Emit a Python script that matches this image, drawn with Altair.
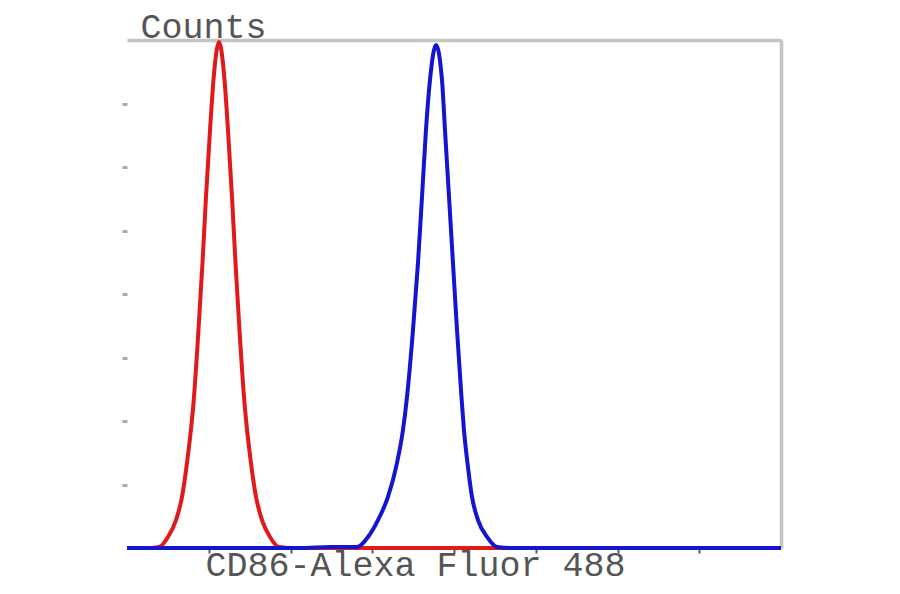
import altair as alt
import pandas as pd

# Red histogram (control); x in channel units 0-1024, y in counts 0-400
red_x = [0, 36, 50.1, 64.2, 76.7, 86.1, 93.9, 104.9, 111.9, 118.2, 123.7, 130.0, 135.4, 144.1,
         152.7, 158.1, 164.4, 169.9, 176.1, 183.2, 194.1, 202.0, 211.4, 223.9, 238.0, 258.3, 1024]
red_y = [0, 0, 0.8, 8.7, 22.0, 40.2, 66.9, 118.9, 171.7, 224.4, 276.4, 329.1, 368.5, 398.4,
         368.5, 329.1, 276.4, 224.4, 171.7, 118.9, 66.9, 40.2, 22.0, 8.7, 0.8, 0, 0]

# Blue histogram (CD86 stained)
blue_x = [0, 271, 318, 340, 360.1, 377.3, 393.0, 408.6, 422.7, 432.1, 438.4, 447.8, 455.6, 461.9, 468.1, 474.4, 483.8,
          493.2, 497.9, 504.2, 510.4, 516.7, 523.7, 527.6, 533.1, 540.2, 549.6, 563.7, 579.3, 599.7, 1024]
blue_y = [0, 0, 0.8, 0.8, 0.8, 8.7, 22.0, 40.2, 66.9, 92.9, 118.9, 171.7, 224.4, 276.4, 329.1, 368.5, 396.1,
          368.5, 329.1, 276.4, 224.4, 171.7, 118.9, 92.9, 66.9, 40.2, 22.0, 8.7, 0.8, 0, 0]

x_ticks = [128, 256, 384, 512, 640, 768, 896]
y_ticks = [50, 100, 150, 200, 250, 300, 350]

df_red = pd.DataFrame({"x": red_x, "y": red_y})
df_blue = pd.DataFrame({"x": blue_x, "y": blue_y})

xscale = alt.Scale(domain=[0, 1024], nice=False, zero=False)
yscale = alt.Scale(domain=[0, 400], nice=False)

FONT = "Liberation Mono"
TXT = "#555555"
FS = 35

x_axis = alt.Axis(orient="bottom", values=x_ticks, labels=False, domain=False, grid=False,
                  tickSize=5, tickWidth=2, tickColor="#555577",
                  title="CD86-Alexa Fluor 488", titleFont=FONT, titleFontSize=FS,
                  titleFontWeight="normal", titleColor=TXT, titleAlign="center",
                  titleAnchor="start", titleX=288, titleY=27, titleBaseline="alphabetic")
y_axis = alt.Axis(orient="left", values=y_ticks, labels=False, domain=False, grid=False,
                  tickSize=5, tickWidth=3, tickColor="#aaaaaa",
                  title="Counts", titleFont=FONT, titleFontSize=FS, titleFontWeight="normal",
                  titleColor=TXT, titleAngle=0, titleAlign="center", titleX=76, titleY=-3,
                  titleBaseline="alphabetic")

red = alt.Chart(df_red).mark_line(color="#e01a1a", strokeWidth=4, interpolate="monotone").encode(
    x=alt.X("x:Q", scale=xscale, axis=x_axis),
    y=alt.Y("y:Q", scale=yscale, axis=y_axis),
)
blue = alt.Chart(df_blue).mark_line(color="#1515d0", strokeWidth=4, interpolate="monotone").encode(
    x=alt.X("x:Q", scale=xscale, axis=None),
    y=alt.Y("y:Q", scale=yscale, axis=None),
)
border = alt.Chart(df_red).mark_point(opacity=0).encode(
    x=alt.X("x:Q", scale=xscale, axis=alt.Axis(orient="top", labels=False, ticks=False, grid=False,
                                                title=None, domainColor="#c4c4c4", domainWidth=3.5)),
    y=alt.Y("y:Q", scale=yscale, axis=alt.Axis(orient="right", labels=False, ticks=False, grid=False,
                                                title=None, domainColor="#c4c4c4", domainWidth=3.5)),
)

chart = alt.layer(red, blue, border).properties(
    width=654, height=508,
    autosize=alt.AutoSizeParams(type="none"),
    padding={"left": 119, "top": 32, "right": 100, "bottom": 38},
).configure_view(stroke=None)

chart.save("out.html", embed_options={"renderer": "svg", "actions": False})
